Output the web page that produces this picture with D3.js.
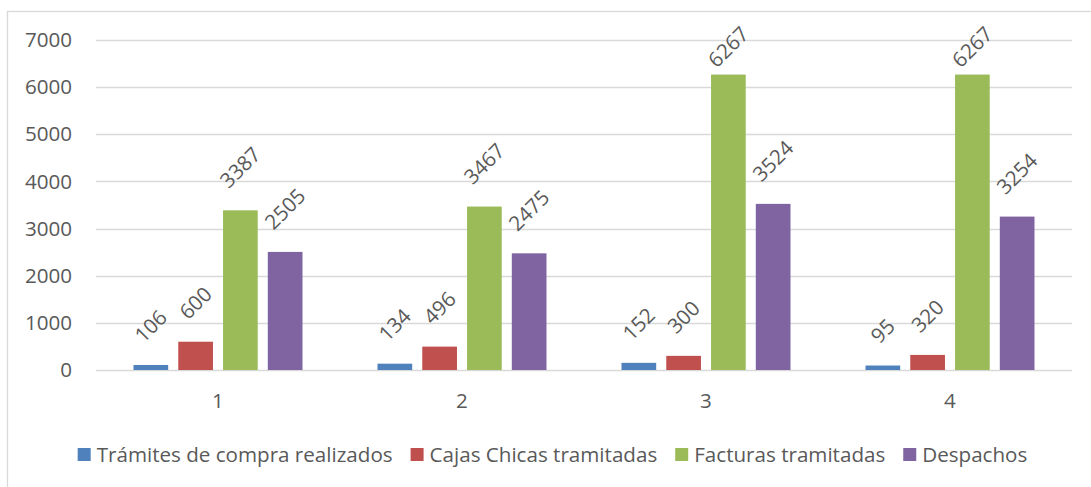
<!DOCTYPE html>
<html>
<head>
<meta charset="utf-8">
<script src="https://cdn.jsdelivr.net/npm/d3@7/dist/d3.min.js"></script>
<style>
  html, body { margin: 0; padding: 0; background: #fff; }
  svg { display: block; }
  text { font-family: "Open Sans", "Noto Sans", sans-serif; fill: #595959; }
</style>
</head>
<body>
<svg id="chart" width="1091" height="487"></svg>
<script>
// Periods on the x axis
const categories = ["1", "2", "3", "4"];
// Series names (legend order)
const seriesNames = [
  "Trámites de compra realizados",
  "Cajas Chicas tramitadas",
  "Facturas tramitadas",
  "Despachos"
];
// Values per series, one per period
const tramites = [106, 134, 152, 95];
const cajasChicas = [600, 496, 300, 320];
const facturas = [3387, 3467, 6267, 6267];
const despachos = [2505, 2475, 3524, 3254];
const yTicks = [0, 1000, 2000, 3000, 4000, 5000, 6000, 7000];

const seriesValues = [tramites, cajasChicas, facturas, despachos];
const colors = ["#4F81BD", "#C0504D", "#9BBB59", "#8064A2"];

const svg = d3.select("#chart");
const W = 1091, H = 487;
const plot = { left: 96, right: 1072, top: 40, bottom: 370, labelTop: 25 };
const fs = 20.6;
const fontStack = '"Open Sans", "Noto Sans", sans-serif';

// Outer frame
svg.append("rect")
  .attr("x", 7.5).attr("y", 11.5)
  .attr("width", W + 10).attr("height", H + 10)
  .attr("fill", "none").attr("stroke", "#D9D9D9").attr("stroke-width", 1.3);

const x0 = d3.scaleBand().domain(categories).range([plot.left, plot.right]).padding(0);
const x1 = d3.scaleBand().domain(d3.range(seriesNames.length))
  .range([37.5, x0.bandwidth() - 37.5]).paddingInner(0.225).paddingOuter(0);
const y = d3.scaleLinear().domain([0, 7000]).range([plot.bottom, plot.top]);

// Gridlines
svg.append("g")
  .selectAll("line").data(yTicks).join("line")
  .attr("x1", plot.left).attr("x2", plot.right)
  .attr("y1", d => Math.round(y(d)) + 0.5).attr("y2", d => Math.round(y(d)) + 0.5)
  .attr("stroke", "#D9D9D9").attr("stroke-width", 1.5);

// Y axis labels
const yAxis = d3.axisLeft(y).tickValues(yTicks).tickSize(0).tickPadding(0).tickFormat(d3.format("d"));
const gy = svg.append("g").attr("transform", `translate(72,0)`).call(yAxis);
gy.select(".domain").remove();
gy.selectAll("text").style("font-size", fs + "px").attr("fill", "#595959")
  .style("font-family", fontStack);

// X axis labels
const xAxis = d3.axisBottom(x0).tickSize(0).tickPadding(0);
const gx = svg.append("g").attr("transform", `translate(0,393)`).call(xAxis);
gx.select(".domain").remove();
gx.selectAll("text").style("font-size", fs + "px").attr("fill", "#595959")
  .style("font-family", fontStack);

// Bars
const rows = categories.map((c, i) => ({
  cat: c,
  vals: seriesValues.map((s, k) => ({ k, v: s[i] }))
}));

const groups = svg.append("g").selectAll("g").data(rows).join("g")
  .attr("transform", d => `translate(${x0(d.cat)},0)`);

groups.selectAll("rect").data(d => d.vals).join("rect")
  .attr("x", d => x1(d.k))
  .attr("width", x1.bandwidth())
  .attr("y", d => y(d.v))
  .attr("height", d => y(0) - y(d.v))
  .attr("fill", d => colors[d.k]);

// Value labels, rotated -45°, kept inside the plot area
const gap = 21;
groups.selectAll("text.val").data(d => d.vals).join("text")
  .attr("class", "val")
  .style("font-size", fs + "px")
  .attr("text-anchor", "middle")
  .attr("dy", "0.35em")
  .text(d => d.v)
  .each(function (d) {
    const w = this.getComputedTextLength();
    const half = (w + fs * 0.72) / (2 * Math.SQRT2);
    const cx = x1(d.k) + x1.bandwidth() / 2;
    let cy = y(d.v) - gap - half;
    cy = Math.max(cy, plot.labelTop + half);
    d3.select(this).attr("transform", `translate(${cx},${cy}) rotate(-45)`);
  });

// Legend
const legend = svg.append("g");
const items = legend.selectAll("g").data(seriesNames).join("g");
items.append("rect").attr("width", 13).attr("height", 13).attr("y", -7)
  .attr("fill", (d, i) => colors[i]);
items.append("text").attr("x", 19).attr("dy", "0.35em")
  .style("font-size", fs + "px").text(d => d);
let offs = 0;
const positions = [];
items.each(function () {
  positions.push(offs);
  const tw = d3.select(this).select("text").node().getComputedTextLength();
  offs += 19 + tw + 18;
});
const total = offs - 18;
const startX = 552.5 - total / 2;
items.attr("transform", (d, i) => `translate(${startX + positions[i]},455)`);
</script>
</body>
</html>
